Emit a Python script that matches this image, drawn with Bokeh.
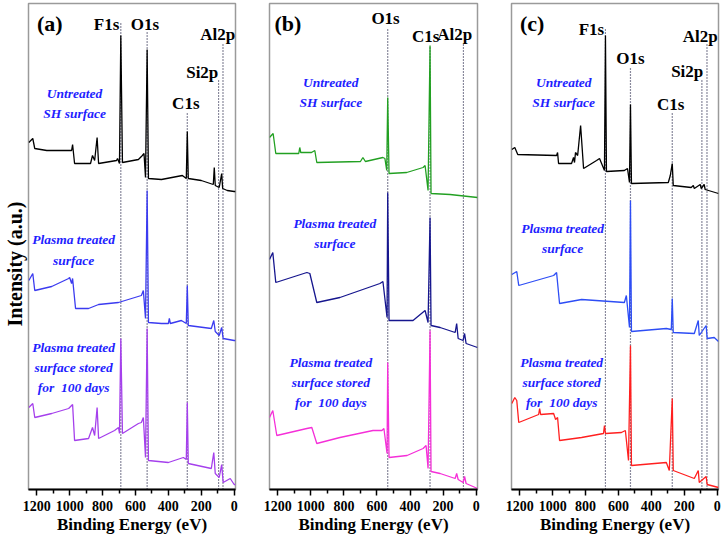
from bokeh.plotting import figure
from bokeh.layouts import row
from bokeh.models import Range1d, FixedTicker, Label
from bokeh.embed import file_html
from bokeh.resources import INLINE

# ---------------- data (binding energy eV, intensity a.u.) ----------------
tick_values = [0, 200, 400, 600, 800, 1000, 1200]
minor_values = [100, 300, 500, 700, 900, 1100]

# panel (a)
a_untreated_be = [1248, 1224, 1212, 1139, 988, 982, 970, 873, 861, 848, 833, 824, 715, 709, 697, 689, 679, 582, 558, 548, 539, 529, 521, 442, 315, 291, 285, 279, 200, 127, 121, 115, 91, 76, 70, 42, 0, -8]
a_untreated_int = [347, 351, 341, 339, 339, 345, 326, 326, 334, 329, 352, 326, 329, 331, 326, 454, 327, 330, 334, 336, 312, 440, 311, 310, 314, 311, 358, 311, 309, 305, 322, 304, 302, 316, 301, 299, 298, 298]
a_plasma_be = [1248, 1224, 1212, 1109, 1006, 1000, 988, 982, 964, 885, 824, 703, 564, 552, 539, 529, 521, 442, 400, 394, 388, 321, 291, 285, 279, 139, 124, 115, 91, 76, 67, 0, -8]
a_plasma_int = [209, 216, 199, 203, 211, 212, 206, 211, 181, 181, 185, 187, 194, 199, 171, 299, 167, 166, 166, 171, 166, 169, 166, 204, 164, 161, 169, 158, 154, 162, 151, 149, 149]
a_stored_be = [1248, 1224, 1212, 1109, 1006, 988, 982, 970, 885, 861, 848, 833, 824, 727, 703, 697, 689, 679, 582, 564, 552, 539, 529, 521, 400, 309, 291, 285, 279, 139, 124, 115, 91, 76, 67, 24, 0, -8]
a_stored_int = [82, 86, 72, 76, 81, 84, 85, 49, 51, 62, 54, 82, 51, 59, 62, 56, 151, 56, 66, 67, 72, 32, 161, 29, 27, 32, 30, 87, 26, 21, 37, 16, 12, 25, 7, 11, 5, 5]

# panel (b)
b_untreated_be = [1250, 1228, 1212, 1073, 1067, 1061, 996, 976, 964, 700, 685, 670, 564, 552, 541, 535, 527, 420, 321, 309, 291, 279, 273, 158, -8]
b_untreated_int = [352, 356, 336, 336, 342, 337, 337, 339, 327, 328, 332, 328, 332, 331, 319, 392, 316, 317, 322, 324, 299, 444, 296, 295, 292]
b_plasma_be = [1250, 1230, 1212, 1024, 1006, 964, 824, 582, 564, 539, 535, 527, 382, 309, 291, 279, 273, 218, 127, 118, 109, 79, 70, 61, -8]
b_plasma_int = [230, 237, 207, 217, 216, 187, 192, 206, 208, 172, 297, 169, 169, 179, 167, 272, 164, 162, 157, 166, 151, 149, 156, 146, 142]
b_stored_be = [1250, 1230, 1206, 1024, 994, 964, 824, 624, 570, 558, 539, 535, 527, 418, 321, 303, 291, 279, 273, 218, 127, 118, 109, 79, 70, 61, -8]
b_stored_int = [72, 79, 54, 61, 62, 46, 52, 59, 59, 61, 36, 127, 32, 34, 41, 44, 21, 159, 18, 16, 11, 16, 10, 7, 13, 6, 1]

# panel (c)
c_untreated_be = [1248, 1230, 1212, 976, 970, 964, 885, 873, 867, 861, 848, 830, 812, 733, 715, 685, 679, 673, 564, 545, 533, 527, 521, 297, 285, 273, 267, 158, 145, 139, 103, 97, 79, 73, -8]
c_untreated_int = [340, 342, 335, 334, 337, 326, 326, 332, 327, 337, 334, 364, 321, 329, 331, 319, 454, 318, 319, 321, 307, 385, 306, 307, 314, 326, 304, 302, 304, 301, 305, 301, 305, 300, 296]
c_plasma_be = [1248, 1218, 1206, 994, 976, 958, 824, 564, 552, 533, 527, 521, 309, 279, 273, 267, 139, 115, 109, 67, 61, 18, -8]
c_plasma_int = [215, 218, 204, 214, 217, 186, 190, 187, 194, 162, 289, 158, 161, 160, 191, 157, 156, 169, 154, 164, 151, 152, 148]
c_stored_be = [1248, 1230, 1218, 1206, 1085, 1079, 1073, 994, 982, 970, 958, 824, 691, 685, 679, 582, 558, 539, 527, 521, 309, 291, 273, 267, 139, 115, 109, 67, 61, -8]
c_stored_int = [86, 92, 89, 67, 75, 81, 75, 76, 70, 72, 49, 52, 56, 64, 56, 57, 59, 29, 144, 24, 27, 19, 91, 19, 11, 19, 7, 13, 5, 2]

# peak assignments (reference lines)
a_peak_names = ["F1s", "O1s", "C1s", "Si2p", "Al2p"]
a_peak_be = [689, 529, 285, 95, 68]
b_peak_names = ["O1s", "C1s", "Al2p"]
b_peak_be = [535, 279, 77]
c_peak_names = ["F1s", "O1s", "C1s", "Si2p", "Al2p"]
c_peak_be = [679, 527, 273, 93, 62]

sample_labels = [["Untreated", "SH surface"],
                 ["Plasma treated", "surface"],
                 ["Plasma treated", "surface stored", "for \u00a0100 days"]]

# ---------------- layout / style (not data) ----------------
SERIF = "'Liberation Serif', 'Times New Roman', Times, 'DejaVu Serif', serif"
TXT_BLUE = "#1f1fff"
DOT_COLOR = "#14143a"

panels = [
    dict(tag="(a)", fw=207, bl=27, br=17,
         spectra=[(a_untreated_be, a_untreated_int, "#000000"),
                  (a_plasma_be, a_plasma_int, "#3b3bf0"),
                  (a_stored_be, a_stored_int, "#a540ec")],
         names=a_peak_names, peaks=a_peak_be,
         line_top=[467, 457, 377, 411, 447],
         lab_pos=[(776, 465), (542, 465), (294, 386), (194, 417), (100, 455)],
         tag_pos=(1121, 466),
         text_pos=[(970, [396, 376]), (976, [250, 229]), (976, [142, 122, 102])]),
    dict(tag="(b)", fw=208, bl=17, br=16,
         spectra=[(b_untreated_be, b_untreated_int, "#22a022"),
                  (b_plasma_be, b_plasma_int, "#16168e"),
                  (b_stored_be, b_stored_int, "#f52fd8")],
         names=b_peak_names, peaks=b_peak_be,
         line_top=[461, 444, 447],
         lab_pos=[(548, 471), (306, 453), (130, 455)],
         tag_pos=(1139, 466),
         text_pos=[(879, [407, 387]), (855, [266, 246]), (879, [127, 107, 87])]),
    dict(tag="(c)", fw=207, bl=18, br=4,
         spectra=[(c_untreated_be, c_untreated_int, "#000000"),
                  (c_plasma_be, c_plasma_int, "#2d4df5"),
                  (c_stored_be, c_stored_int, "#ff1f1f")],
         names=c_peak_names, peaks=c_peak_be,
         line_top=[462, 421, 376, 411, 446],
         lab_pos=[(764, 460), (527, 431), (282, 385), (182, 418), (103, 453)],
         tag_pos=(1124, 466),
         text_pos=[(933, [407, 387]), (939, [261, 241]), (945, [127, 107, 87])]),
]

figs = []
for i, pd_ in enumerate(panels):
    p = figure(frame_width=pd_["fw"], frame_height=486, output_backend="svg",
               toolbar_location=None, x_range=Range1d(1250, -8),
               y_range=Range1d(0, 486),
               y_axis_location=("left" if i == 0 else None),
               min_border_left=pd_["bl"], min_border_right=pd_["br"],
               min_border_top=3, min_border_bottom=0)
    p.grid.visible = False
    p.outline_line_color = "#9a9a9a"
    p.outline_line_width = 1.5
    p.background_fill_color = "white"
    p.border_fill_color = "white"

    ax = p.xaxis[0]
    ax.ticker = FixedTicker(ticks=tick_values, minor_ticks=minor_values)
    ax.axis_line_width = 2
    ax.axis_line_color = "black"
    ax.major_tick_line_color = "black"
    ax.minor_tick_line_color = "black"
    ax.major_tick_line_width = 1.5
    ax.minor_tick_line_width = 1.5
    ax.major_tick_out = 6
    ax.major_tick_in = 0
    ax.minor_tick_out = 4
    ax.minor_tick_in = 0
    ax.major_label_text_font = SERIF
    ax.major_label_text_font_style = "bold"
    ax.major_label_text_font_size = "14px"
    ax.major_label_text_color = "black"
    ax.major_label_standoff = 5
    ax.axis_label = "Binding Energy (eV)"
    ax.axis_label_text_font = SERIF
    ax.axis_label_text_font_style = "bold"
    ax.axis_label_text_font_size = "17px"
    ax.axis_label_text_color = "black"
    ax.axis_label_standoff = 1

    if i == 0:
        ya = p.yaxis[0]
        ya.ticker = FixedTicker(ticks=[])
        ya.axis_line_color = None
        ya.major_tick_line_color = None
        ya.minor_tick_line_color = None
        ya.major_label_text_font_size = "0px"
        ya.major_label_standoff = 0
        ya.axis_label = "Intensity (a.u.)" + "\u00a0" * 7
        ya.axis_label_text_font = SERIF
        ya.axis_label_text_font_style = "bold"
        ya.axis_label_text_font_size = "20px"
        ya.axis_label_text_color = "black"
        ya.axis_label_standoff = 3

    # dotted reference lines
    p.segment(x0=pd_["peaks"], x1=pd_["peaks"], y0=[0] * len(pd_["peaks"]),
              y1=pd_["line_top"], line_color=DOT_COLOR, line_width=1.2,
              line_dash="1 2")

    # spectra
    for be, inten, col in pd_["spectra"]:
        p.line(be, inten, line_color=col, line_width=1.3)

    # peak names
    for name, (lx, ly) in zip(pd_["names"], pd_["lab_pos"]):
        p.add_layout(Label(x=lx, y=ly, text=name, text_font=SERIF,
                           text_font_style="bold", text_font_size="17px",
                           text_align="center", text_baseline="middle",
                           text_color="black"))
    # panel tag
    p.add_layout(Label(x=pd_["tag_pos"][0], y=pd_["tag_pos"][1], text=pd_["tag"],
                       text_font=SERIF, text_font_style="bold",
                       text_font_size="22px", text_align="center",
                       text_baseline="middle", text_color="black"))
    # sample descriptions
    for lines, (tx, tys) in zip(sample_labels, pd_["text_pos"]):
        for t, ty in zip(lines, tys):
            p.add_layout(Label(x=tx, y=ty, text=t, text_font=SERIF,
                               text_font_style="bold italic",
                               text_font_size="13.5px", text_align="center",
                               text_baseline="middle", text_color=TXT_BLUE))
    figs.append(p)

layout = row(*figs, spacing=0)
open("out.html", "w").write(file_html(layout, INLINE))
